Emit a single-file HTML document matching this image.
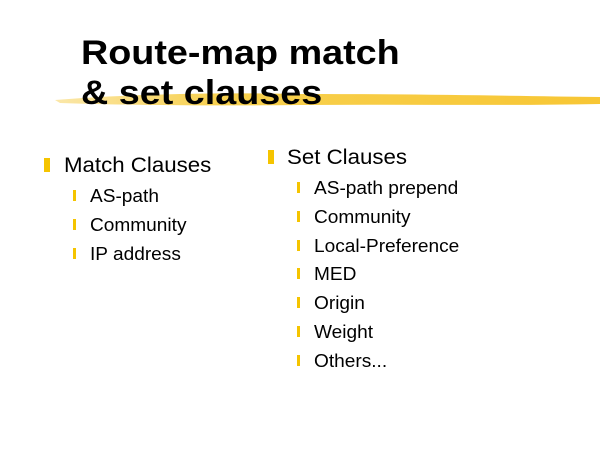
<!DOCTYPE html>
<html><head><style>
body{margin:0;width:600px;height:450px;background:#fff;position:relative;overflow:hidden;font-family:"Liberation Sans",sans-serif;}
.t{position:absolute;font-weight:bold;font-size:34px;color:#000;white-space:nowrap;line-height:1;transform:scaleX(1.11);transform-origin:0 0;}
.l{position:absolute;white-space:nowrap;color:#000;line-height:1;transform:scaleX(1.06);transform-origin:0 0;}
.b{position:absolute;background:#f5c400;}
</style></head><body>
<svg style="position:absolute;left:0;top:0" width="600" height="450">
<defs><linearGradient id="g" x1="0" x2="1"><stop offset="0" stop-color="#fae39a"/><stop offset="0.3" stop-color="#f6c830"/><stop offset="1" stop-color="#f6bc10"/></linearGradient></defs>
<path d="M55 100 C120 95 200 92 300 94 C420 94 520 96 600 97 L600 104 C500 106 400 104 300 105 C200 106 120 105 60 103 Z" fill="url(#g)" opacity="0.85"/>
</svg>
<div class="t" style="left:81px;top:36px">Route-map match</div>
<div class="t" style="left:81px;top:76px">&amp; set clauses</div>

<div class="b" style="left:44px;top:158px;width:6px;height:14px"></div>
<div class="l" style="left:64px;top:155px;font-size:21px">Match Clauses</div>
<div class="b" style="left:73px;top:190px;width:3px;height:11px"></div>
<div class="l" style="left:90px;top:187px;font-size:18px">AS-path</div>
<div class="b" style="left:73px;top:219px;width:3px;height:11px"></div>
<div class="l" style="left:90px;top:216px;font-size:18px">Community</div>
<div class="b" style="left:73px;top:248px;width:3px;height:11px"></div>
<div class="l" style="left:90px;top:245px;font-size:18px">IP address</div>

<div class="b" style="left:268px;top:150px;width:6px;height:14px"></div>
<div class="l" style="left:287px;top:147px;font-size:21px">Set Clauses</div>
<div class="b" style="left:297px;top:182px;width:3px;height:11px"></div>
<div class="l" style="left:314px;top:179px;font-size:18px">AS-path prepend</div>
<div class="b" style="left:297px;top:211px;width:3px;height:11px"></div>
<div class="l" style="left:314px;top:208px;font-size:18px">Community</div>
<div class="b" style="left:297px;top:240px;width:3px;height:11px"></div>
<div class="l" style="left:314px;top:237px;font-size:18px">Local-Preference</div>
<div class="b" style="left:297px;top:268px;width:3px;height:11px"></div>
<div class="l" style="left:314px;top:265px;font-size:18px">MED</div>
<div class="b" style="left:297px;top:297px;width:3px;height:11px"></div>
<div class="l" style="left:314px;top:294px;font-size:18px">Origin</div>
<div class="b" style="left:297px;top:326px;width:3px;height:11px"></div>
<div class="l" style="left:314px;top:323px;font-size:18px">Weight</div>
<div class="b" style="left:297px;top:355px;width:3px;height:11px"></div>
<div class="l" style="left:314px;top:352px;font-size:18px">Others...</div>
</body></html>
